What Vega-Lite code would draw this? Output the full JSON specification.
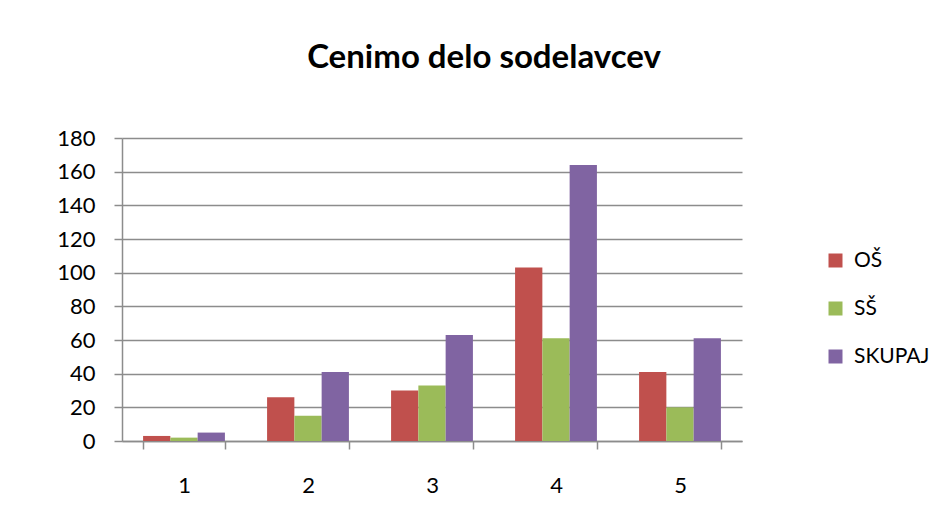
{
  "$schema": "https://vega.github.io/schema/vega-lite/v6.json",
  "autosize": "none",
  "width": 620,
  "height": 303,
  "padding": {"left": 122, "top": 138, "right": 203, "bottom": 86},
  "background": "white",
  "title": {
    "text": "Cenimo delo sodelavcev",
    "font": "Lato",
    "fontSize": 33,
    "fontWeight": "bold",
    "color": "#000000",
    "anchor": "middle",
    "dx": 52,
    "offset": 52
  },
  "data": {
    "values": [
      {"kategorija": "1", "skupina": "OŠ", "vrednost": 3},
      {"kategorija": "1", "skupina": "SŠ", "vrednost": 2},
      {"kategorija": "1", "skupina": "SKUPAJ", "vrednost": 5},
      {"kategorija": "2", "skupina": "OŠ", "vrednost": 26},
      {"kategorija": "2", "skupina": "SŠ", "vrednost": 15},
      {"kategorija": "2", "skupina": "SKUPAJ", "vrednost": 41},
      {"kategorija": "3", "skupina": "OŠ", "vrednost": 30},
      {"kategorija": "3", "skupina": "SŠ", "vrednost": 33},
      {"kategorija": "3", "skupina": "SKUPAJ", "vrednost": 63},
      {"kategorija": "4", "skupina": "OŠ", "vrednost": 103},
      {"kategorija": "4", "skupina": "SŠ", "vrednost": 61},
      {"kategorija": "4", "skupina": "SKUPAJ", "vrednost": 164},
      {"kategorija": "5", "skupina": "OŠ", "vrednost": 41},
      {"kategorija": "5", "skupina": "SŠ", "vrednost": 20},
      {"kategorija": "5", "skupina": "SKUPAJ", "vrednost": 61}
    ]
  },
  "mark": {"type": "bar", "stroke": null},
  "encoding": {
    "x": {
      "field": "kategorija",
      "type": "nominal",
      "title": null,
      "scale": {"paddingInner": 0.34, "paddingOuter": 0.17},
      "axis": {
        "labelAngle": 0,
        "labelFont": "Lato",
        "labelFontSize": 22,
        "labelColor": "#000000",
        "labelPadding": 26,
        "domainColor": "#8c8c8c",
        "domainWidth": 1.5,
        "tickColor": "#8c8c8c",
        "tickWidth": 1.5,
        "tickSize": 8,
        "tickBand": "extent",
        "grid": false
      }
    },
    "xOffset": {
      "field": "skupina",
      "sort": ["OŠ", "SŠ", "SKUPAJ"]
    },
    "y": {
      "field": "vrednost",
      "type": "quantitative",
      "title": null,
      "scale": {"domain": [0, 180], "nice": false},
      "axis": {
        "values": [0, 20, 40, 60, 80, 100, 120, 140, 160, 180],
        "labelFont": "Lato",
        "labelFontSize": 22,
        "labelColor": "#000000",
        "labelPadding": 19,
        "domainColor": "#8c8c8c",
        "domainWidth": 1.5,
        "tickColor": "#8c8c8c",
        "tickWidth": 1.5,
        "tickSize": 8,
        "gridColor": "#8c8c8c",
        "gridWidth": 1.5
      }
    },
    "color": {
      "field": "skupina",
      "type": "nominal",
      "sort": ["OŠ", "SŠ", "SKUPAJ"],
      "scale": {
        "domain": ["OŠ", "SŠ", "SKUPAJ"],
        "range": ["#C0504D", "#9BBB59", "#8064A2"]
      },
      "legend": {
        "title": null,
        "orient": "none",
        "legendX": 703,
        "legendY": 112,
        "symbolType": "square",
        "symbolSize": 196,
        "symbolStrokeWidth": 0,
        "labelFont": "Lato",
        "labelFontSize": 21,
        "labelColor": "#000000",
        "labelOffset": 8,
        "rowPadding": 26
      }
    }
  },
  "config": {
    "view": {"stroke": null}
  }
}
